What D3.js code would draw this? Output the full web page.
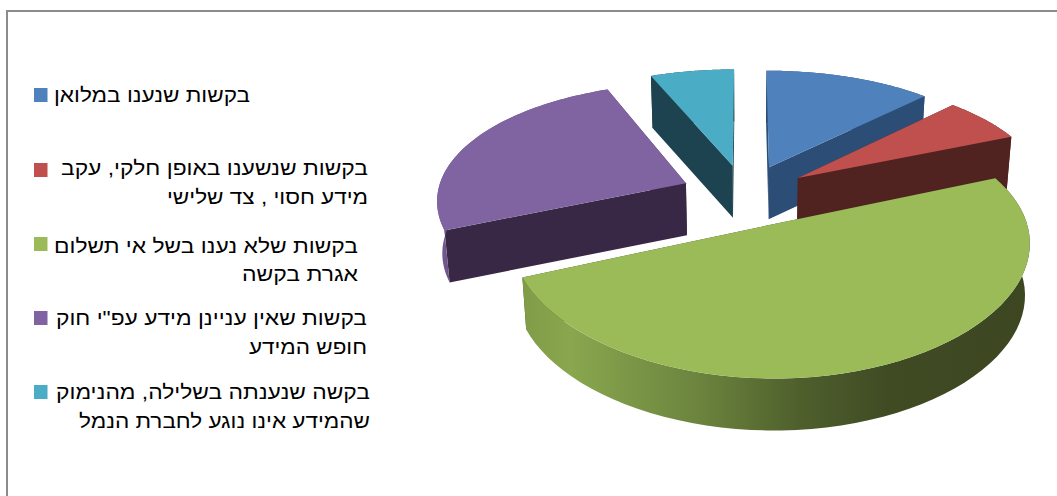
<!DOCTYPE html>
<html>
<head>
<meta charset="utf-8">
<script src="https://cdnjs.cloudflare.com/ajax/libs/d3/7.8.5/d3.min.js"></script>
<style>
  html, body { margin: 0; padding: 0; background: #fff; }
  svg { display: block; }
  text { font-family: "Liberation Sans", Arial, sans-serif; font-size: 19.5px; fill: #000; direction: rtl; }
</style>
</head>
<body>
<svg id="chart" width="1057" height="496"></svg>
<script>
// Data
const categories = ["full", "partial", "unpaid", "notInfo", "refused"];
const values = [2, 1, 8, 4, 1];
const legendLines = [
    ["בקשות שנענו במלואן"],
    ["בקשות שנשענו באופן חלקי, עקב", "מידע חסוי , צד שלישי"],
    ["בקשות שלא נענו בשל אי תשלום", "אגרת בקשה"],
    ["בקשות שאין עניינן מידע עפ\"י חוק", "חופש המידע"],
    ["בקשה שנענתה בשלילה, מהנימוק", "שהמידע אינו נוגע לחברת הנמל"]
];

// Styles
const topColors = ["#4f81bd", "#c0504d", "#9bbb59", "#8064a2", "#4bacc6"];
const sideColors = ["#2c4d75", "#512320", "#3f4a23", "#392845", "#1d4350"];
const outerFills = ["#2c4d75", "#512320", "url(#greenSide)", "url(#purpleSide)", "#1d4350"];

// Layout of the legend
const legendRight = [250, 368, 358, 367, 370];
const legendFirstY = [102, 175, 253, 325, 399];
const legendLineGap = [0, 29, 28, 29, 29];
const legendWidths = [[196], [307, 201], [304, 116], [311, 118], [314, 291]];
const swatchTop = [88, 163, 237, 311, 385];

const svg = d3.select("#chart");

// ===============================
// Frame
// ===============================
svg.append("path")
    .attr("d", "M7,496V11H1057")
    .attr("fill", "none")
    .attr("stroke", "#8c8c8c")
    .attr("stroke-width", 2);

// ===============================
// Gradients for the round side
// ===============================
const defs = svg.append("defs");

function addGradient(id, x1, x2, stops) {
    const g = defs.append("linearGradient")
        .attr("id", id)
        .attr("gradientUnits", "userSpaceOnUse")
        .attr("x1", x1).attr("x2", x2)
        .attr("y1", 0).attr("y2", 0);
    stops.forEach(s => g.append("stop").attr("offset", s[0]).attr("stop-color", s[1]));
}

addGradient("greenSide", 519, 1031, [
    [0, "#7f9b47"], [0.1, "#89a74e"], [0.35, "#6c843e"],
    [0.55, "#4e5f2c"], [0.72, "#404b24"], [1, "#3c4722"]
]);
addGradient("purpleSide", 434, 450, [[0, "#7d619e"], [1, "#6a5186"]]);

// ===============================
// 3D pie
// ===============================
const cx = 745, cy = 195,
      rx = 249, ry = 119.5,
      perspX = 0.125,   // how much closer points get wider
      perspY = 0.155,   // and lower
      explode = 0.26,
      depth = 52,
      taper = 0.017;    // the bottom is a bit narrower than the top

const xScale = d3.scaleLinear().domain([-1, 1]).range([cx - rx, cx + rx]);
const yScale = d3.scaleLinear().domain([-1, 1]).range([cy - ry, cy + ry]);

// plane point to screen, z = 0 on top of the pie, z = 1 on the bottom
function project(p, z) {
    const x = cx + (xScale(p[0] / (1 - perspX * p[1])) - cx) * (1 - taper * z);
    return [x, yScale(p[1] / (1 - perspY * p[1])) + z * depth];
}

const pie = d3.pie().sort(null).value(d => d);
const arcs = pie(values);
const line = d3.line();

arcs.forEach((a, i) => {
    const mid = (a.startAngle + a.endAngle) / 2;
    a.index = i;
    a.apex = [explode * Math.sin(mid), -explode * Math.cos(mid)];
    a.rim = d3.range(0, 61).map(k => {
        const t = a.startAngle + (a.endAngle - a.startAngle) * k / 60;
        return [a.apex[0] + Math.sin(t), a.apex[1] - Math.cos(t)];
    });
});

// back to front: teal, blue, purple, red, green
const drawOrder = [4, 0, 3, 1, 2];

drawOrder.forEach(i => {
    const a = arcs[i];
    const first = a.rim[0], last = a.rim[a.rim.length - 1];
    const g = svg.append("g").attr("class", "slice-" + categories[i]);

    // cut faces
    [first, last].forEach(end => {
        g.append("path")
            .attr("d", line([project(a.apex, 0), project(end, 0), project(end, 1), project(a.apex, 1)]) + "Z")
            .attr("fill", sideColors[i]);
    });

    // round side
    const topEdge = a.rim.map(p => project(p, 0));
    const bottomEdge = a.rim.map(p => project(p, 1)).reverse();
    g.append("path")
        .attr("d", line(topEdge.concat(bottomEdge)) + "Z")
        .attr("fill", outerFills[i]);

    // top face
    g.append("path")
        .attr("d", line([project(a.apex, 0)].concat(topEdge)) + "Z")
        .attr("fill", topColors[i]);
});

// ===============================
// Legend
// ===============================
const legend = svg.selectAll("g.legend")
    .data(legendLines)
    .enter()
    .append("g")
    .attr("class", "legend");

legend.append("rect")
    .attr("x", 34)
    .attr("y", (d, i) => swatchTop[i])
    .attr("width", 13.5)
    .attr("height", 14)
    .attr("fill", (d, i) => topColors[i]);

// the reference text is stretched wider than any installed font, so fit each line
legend.each(function(lines, i) {
    lines.forEach((txt, k) => {
        d3.select(this).append("text")
            .attr("x", legendRight[i])
            .attr("y", legendFirstY[i] + k * legendLineGap[i])
            .attr("text-anchor", "start")
            .attr("textLength", legendWidths[i][k])
            .attr("lengthAdjust", "spacingAndGlyphs")
            .text(txt);
    });
});
</script>
</body>
</html>
